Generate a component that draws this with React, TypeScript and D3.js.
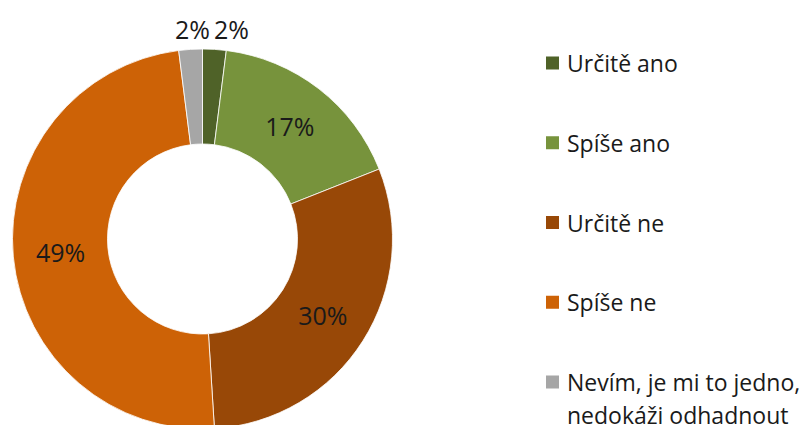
import React, { useEffect, useRef } from 'react';
import * as d3 from 'd3';

const categories = ['Určitě ano', 'Spíše ano', 'Určitě ne', 'Spíše ne', 'Nevím, je mi to jedno, nedokáži odhadnout'];
const values = [2, 17, 30, 49, 2];
const colors = ['#4F6228', '#77933C', '#984807', '#CD6206', '#A6A6A6'];
const legendLines = [['Určitě ano'], ['Spíše ano'], ['Určitě ne'], ['Spíše ne'], ['Nevím, je mi to jedno,', 'nedokáži odhadnout']];

const width = 807;
const height = 425;

export default function App() {
    const svgRef = useRef<SVGSVGElement>(null);

    useEffect(() => {
        const svg = d3.select(svgRef.current);
        svg.selectAll('*').remove();

        const cx = 202.5, cy = 239;
        const outer = 190, inner = 95;
        const font = "'Open Sans', 'Noto Sans', sans-serif";

        const pie = d3.pie<number>().sort(null).value(d => d);
        const arcs = pie(values);
        const arc = d3.arc<d3.PieArcDatum<number>>().innerRadius(inner).outerRadius(outer);
        const mid = d3.arc<d3.PieArcDatum<number>>().innerRadius((inner + outer) / 2).outerRadius((inner + outer) / 2);

        const g = svg.append('g').attr('transform', `translate(${cx},${cy})`);

        g.selectAll('path')
            .data(arcs)
            .enter().append('path')
            .attr('d', arc)
            .attr('fill', (d, i) => colors[i])
            .attr('stroke', '#fff')
            .attr('stroke-width', 0.8);

        // small slices get their labels outside, above the ring
        g.selectAll('.label')
            .data(arcs)
            .enter().append('text')
            .attr('class', 'label')
            .attr('x', (d, i) => {
                if (values[i] >= 5) return mid.centroid(d)[0];
                return i === 0 ? 29 : -10;
            })
            .attr('y', (d, i) => values[i] >= 5 ? mid.centroid(d)[1] : -210)
            .attr('text-anchor', 'middle')
            .attr('dominant-baseline', 'central')
            .style('font-family', font)
            .style('font-size', '25px')
            .attr('fill', '#1a1a1a')
            .text(d => `${d.data}%`);

        const legend = svg.append('g').attr('transform', 'translate(546,0)');
        const ly = d3.scaleLinear().domain([0, 4]).range([63, 382]);

        categories.forEach((c, i) => {
            const row = legend.append('g').attr('transform', `translate(0,${ly(i)})`);
            row.append('rect')
                .attr('x', 0).attr('y', -6.5)
                .attr('width', 13).attr('height', 13)
                .attr('fill', colors[i]);
            legendLines[i].forEach((line, j) => {
                row.append('text')
                    .attr('x', 21)
                    .attr('y', j * 33)
                    .attr('dominant-baseline', 'central')
                    .style('font-family', font)
                    .style('font-size', '23px')
                    .attr('fill', '#1a1a1a')
                    .text(line);
            });
        });
    }, []);

    return (
        <svg ref={svgRef} width={width} height={height}
            style={{ position: 'absolute', left: 0, top: 0, background: '#fff' }} />
    );
}
